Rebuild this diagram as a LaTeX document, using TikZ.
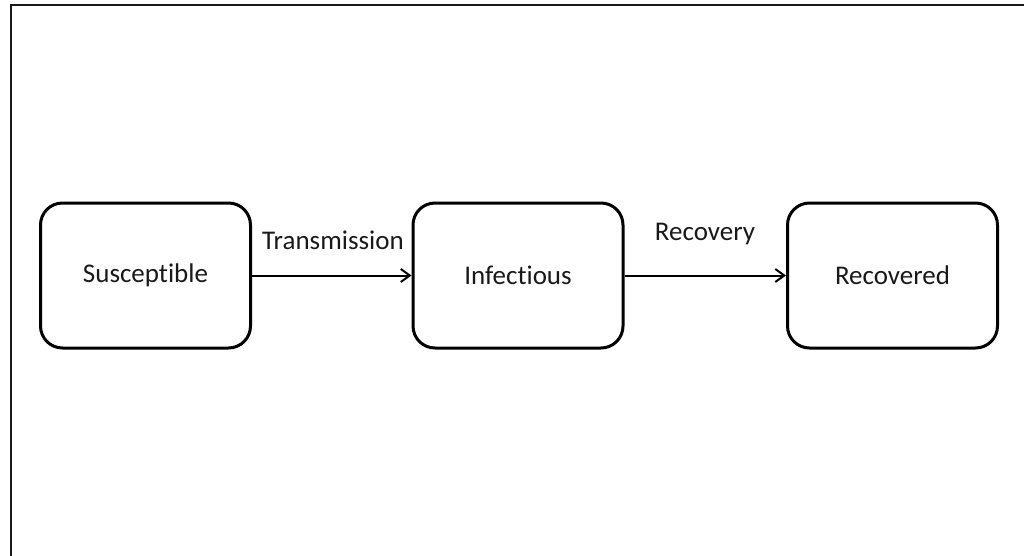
\documentclass[tikz,border=0pt]{standalone}
\usepackage{fontspec}
\setmainfont[Ligatures=NoCommon]{Carlito}
\usetikzlibrary{arrows.meta}
\begin{document}
\begin{tikzpicture}[x=1pt,y=-1pt,
  state/.style={draw=black,line width=3pt,rounded corners=22pt,minimum width=210pt,minimum height=145pt,inner sep=0pt,font=\fontsize{27}{32}\selectfont,text=black!90},
  lbl/.style={inner sep=0pt,font=\fontsize{27}{32}\selectfont,text=black!90},
  flow/.style={line width=2pt,-{Straight Barb[length=9pt,width=13pt,line width=2pt]}}]
\useasboundingbox (0,0) rectangle (1024,556);
\draw[line width=2pt,black!90] (10.5,556) -- (10.5,5.5) -- (1024,5.5);
\node[state] (s) at (145.5,275.5) {\raisebox{-2pt}{Susceptible}};
\node[state] (i) at (518,275.5) {Infectious};
\node[state] (r) at (892.5,275.5) {Recovered};
\draw[flow] (s) -- (i);
\draw[flow] (i) -- (r);
\node[lbl] (tl) at (333,240) {Transmission};
\node[lbl] (rl) at (705,234) {Recovery};
\end{tikzpicture}
\end{document}
